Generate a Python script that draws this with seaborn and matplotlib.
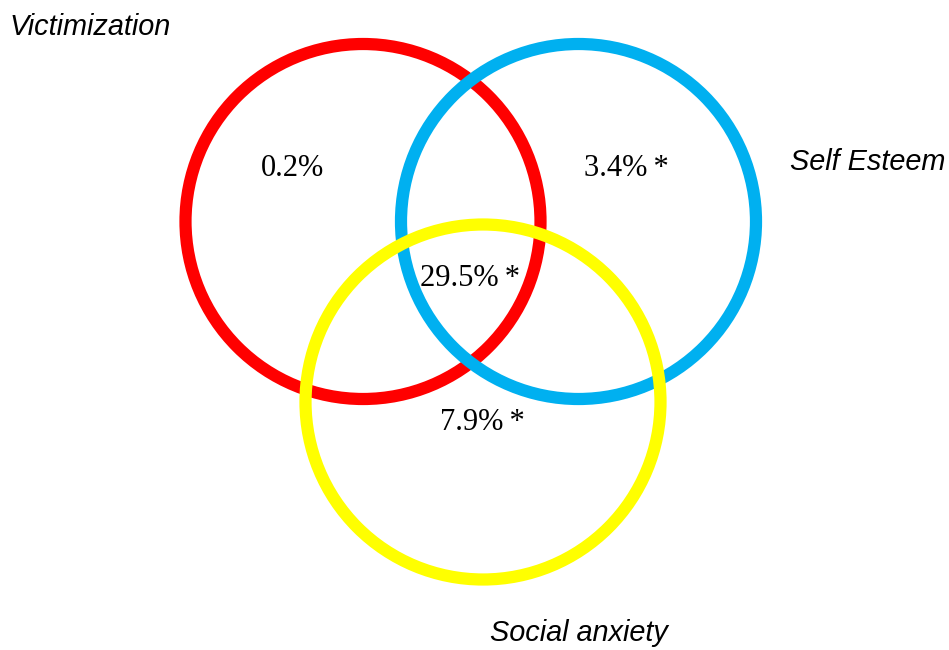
import matplotlib
matplotlib.use("Agg")
import matplotlib.pyplot as plt
from matplotlib.patches import Circle
import seaborn as sns

# sets and the share of variance in each region
set_names = ["Victimization", "Self Esteem", "Social anxiety"]
set_colors = ["#FF0000", "#00B0F0", "#FFFF00"]
region_values = ["0.2%", "3.4%", "29.5%", "7.9%"]
region_signif = [False, True, True, True]

# layout (pixel space of a 949x650 canvas, y down)
circle_xy = [(363, 221.5), (578.5, 221.5), (483, 402)]
circle_r = 177.5
name_xy = [(10, 27), (790, 162), (490, 633)]
region_xy = [(293, 168), (626, 168), (470, 278), (482, 422)]

sns.set_style("white")

fig = plt.figure(figsize=(9.49, 6.5), dpi=100)
ax = fig.add_axes([0, 0, 1, 1])
ax.set_xlim(0, 949)
ax.set_ylim(650, 0)
ax.set_aspect("equal")
ax.axis("off")

for (cx, cy), col in zip(circle_xy, set_colors):
    ax.add_patch(Circle((cx, cy), circle_r, fill=False, edgecolor=col, linewidth=8.8))

for (x, y), name in zip(name_xy, set_names):
    ax.text(x, y, name, ha="left", va="center", fontsize=20.8, style="italic",
            family="Liberation Sans", color="black")

for (x, y), val, sig in zip(region_xy, region_values, region_signif):
    label = val + ("\u2009*" if sig else "")
    ax.text(x, y, label, ha="center", va="center", fontsize=22,
            family=["Liberation Serif", "DejaVu Serif"], color="black")

fig.savefig("out.png", dpi=100, facecolor="white")
